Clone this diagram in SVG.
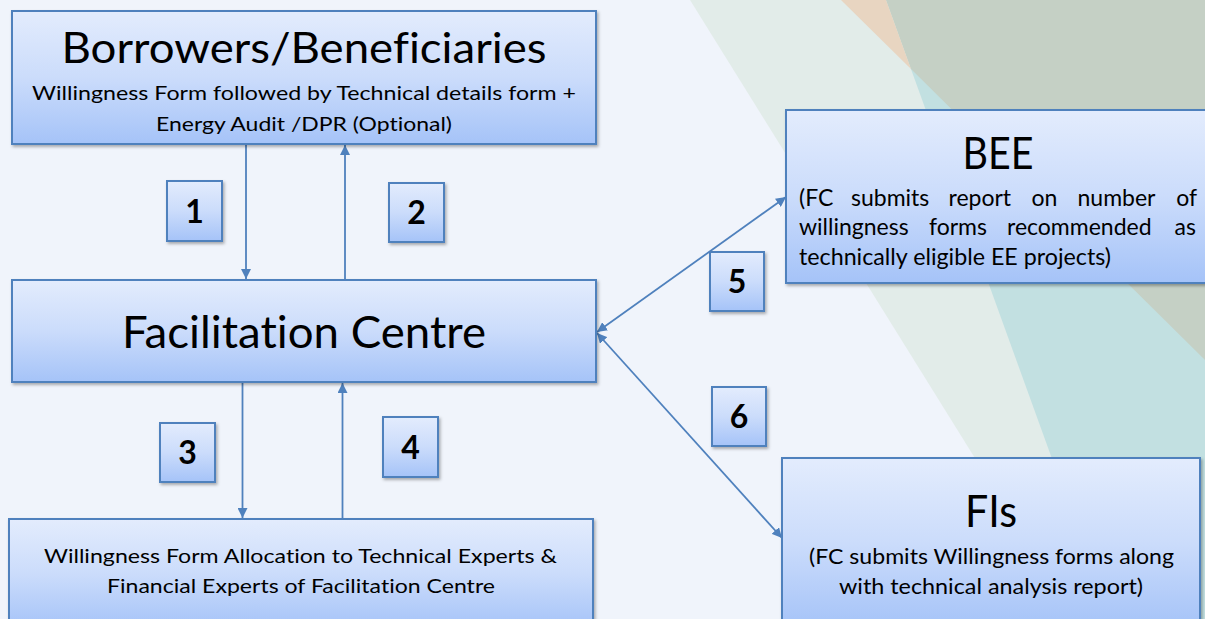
<svg xmlns="http://www.w3.org/2000/svg" width="1205" height="619" viewBox="0 0 1205 619">
<style>
.box{fill:url(#g);stroke:#4f81bd;stroke-width:2;filter:url(#sh)}
.t{font-family:Lato,"Open Sans","Liberation Sans",sans-serif;fill:#000;font-variant-ligatures:none;font-feature-settings:"liga" 0}
.big{font-size:44px}
.mid{font-size:20px}
.num{font-size:32px;font-weight:bold;text-anchor:middle}
.c{text-anchor:middle}
.e{text-anchor:end}
.ln{stroke:#4f81bd;stroke-width:1.8;fill:none}
</style>
<defs>
<linearGradient id="g" x1="0" y1="0" x2="0" y2="1">
<stop offset="0" stop-color="#e3ecfd"/>
<stop offset="0.5" stop-color="#cbdcfb"/>
<stop offset="1" stop-color="#a5c3f8"/>
</linearGradient>
<filter id="sh" x="-10%" y="-10%" width="120%" height="130%">
<feDropShadow dx="1.5" dy="2" stdDeviation="1.5" flood-color="#000" flood-opacity="0.3"/>
</filter>
<marker id="ah" viewBox="0 0 10 10" refX="10" refY="5" markerWidth="10" markerHeight="10" markerUnits="userSpaceOnUse" orient="auto-start-reverse">
<path d="M0,0 L10,5 L0,10 z" fill="#4f81bd"/>
</marker>
</defs>
<g id="background">
<rect x="0" y="0" width="1205" height="619" fill="#f0f4fb"/>
<polygon points="690,0 1205,0 1205,619 1075,619" fill="#e2ece9"/>
<polygon points="886,0 1205,0 1205,619 1110,619" fill="#c2e0e1"/>
<polygon points="886,0 1205,0 1205,360 911,69" fill="#c5d0c5"/>
<polygon points="841,0 886,0 911,69" fill="#e8d5c1"/>
</g>
<g id="connectors">
<line class="ln" x1="246" y1="145" x2="246" y2="279" marker-end="url(#ah)"/>
<line class="ln" x1="345" y1="279" x2="345" y2="145" marker-end="url(#ah)"/>
<line class="ln" x1="242.5" y1="383" x2="242.5" y2="518" marker-end="url(#ah)"/>
<line class="ln" x1="342.5" y1="518" x2="342.5" y2="383" marker-end="url(#ah)"/>
<line class="ln" x1="597" y1="332" x2="786" y2="197" marker-start="url(#ah)" marker-end="url(#ah)"/>
<line class="ln" x1="597" y1="333" x2="782" y2="538" marker-start="url(#ah)" marker-end="url(#ah)"/>
</g>
<g id="borrowers">
<rect class="box" x="12" y="11" width="584" height="133"/>
<text class="t c" x="304" y="63" font-size="42" textLength="485" lengthAdjust="spacingAndGlyphs">Borrowers/Beneficiaries</text>
<text class="t c mid" x="304" y="100" textLength="544" lengthAdjust="spacingAndGlyphs">Willingness Form followed by Technical details form +</text>
<text class="t c mid" x="304" y="131" textLength="296" lengthAdjust="spacingAndGlyphs">Energy Audit /DPR (Optional)</text>
</g>
<g id="facilitation-centre">
<rect class="box" x="12" y="280" width="584" height="102"/>
<text class="t c big" x="304" y="348" textLength="364" lengthAdjust="spacingAndGlyphs">Facilitation Centre</text>
</g>
<g id="allocation">
<rect class="box" x="9" y="519" width="584" height="110"/>
<text class="t c mid" x="300.5" y="563" textLength="513" lengthAdjust="spacingAndGlyphs">Willingness Form Allocation to Technical Experts &amp;</text>
<text class="t c mid" x="301" y="593" textLength="388" lengthAdjust="spacingAndGlyphs">Financial Experts of Facilitation Centre</text>
</g>
<g id="bee">
<rect class="box" x="786" y="110" width="430" height="173"/>
<text class="t c big" x="998" y="169" textLength="71" lengthAdjust="spacingAndGlyphs">BEE</text>
<g class="t" font-size="23">
<text x="799" y="205.5">(FC</text>
<text x="851" y="205.5">submits</text>
<text x="948.5" y="205.5">report</text>
<text x="1031.5" y="205.5">on</text>
<text x="1077.5" y="205.5">number</text>
<text class="e" x="1197" y="205.5">of</text>
<text x="799" y="235">willingness</text>
<text x="929" y="235">forms</text>
<text x="1007" y="235">recommended</text>
<text class="e" x="1196" y="235">as</text>
<text x="799" y="264.5" textLength="312" lengthAdjust="spacingAndGlyphs">technically eligible EE projects)</text>
</g>
</g>
<g id="fis">
<rect class="box" x="782" y="458" width="418" height="170"/>
<text class="t c big" x="991" y="527" textLength="52" lengthAdjust="spacingAndGlyphs">FIs</text>
<text class="t c" font-size="21" x="991.5" y="564" textLength="365" lengthAdjust="spacingAndGlyphs">(FC submits Willingness forms along</text>
<text class="t c" font-size="21" x="991" y="594" textLength="304" lengthAdjust="spacingAndGlyphs">with technical analysis report)</text>
</g>
<g id="step1"><rect class="box" x="167" y="181" width="55" height="60"/><text class="t num" x="194.5" y="222.5">1</text></g>
<g id="step2"><rect class="box" x="389" y="183" width="55" height="59"/><text class="t num" x="416.5" y="224">2</text></g>
<g id="step3"><rect class="box" x="160" y="423" width="55" height="59"/><text class="t num" x="187.5" y="464">3</text></g>
<g id="step4"><rect class="box" x="383" y="417" width="55" height="60"/><text class="t num" x="410.5" y="458.5">4</text></g>
<g id="step5"><rect class="box" x="710" y="252" width="54" height="59"/><text class="t num" x="737" y="293">5</text></g>
<g id="step6"><rect class="box" x="712" y="387" width="54" height="59"/><text class="t num" x="739" y="428">6</text></g>
</svg>
